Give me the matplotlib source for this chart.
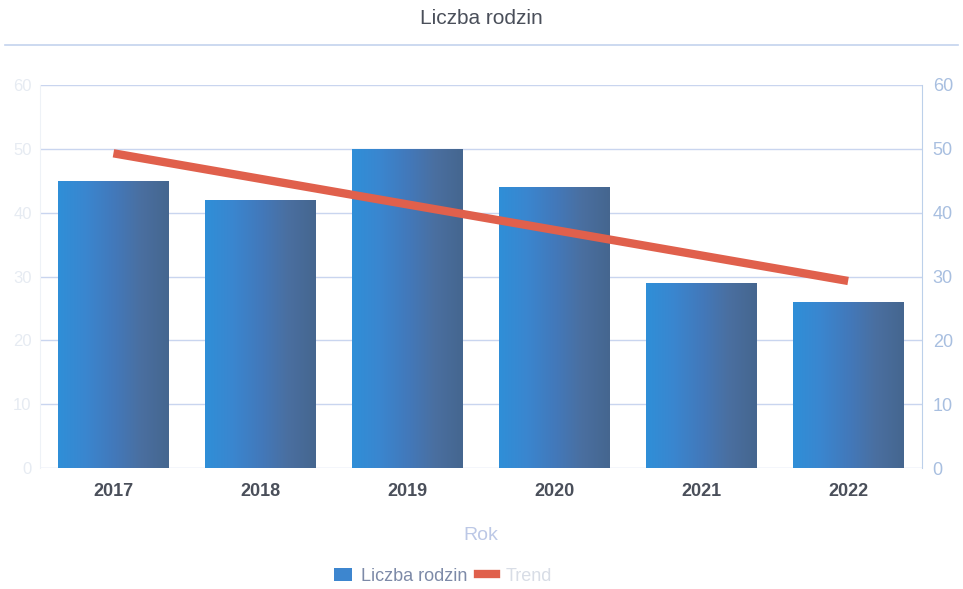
import matplotlib
matplotlib.use("Agg")
import matplotlib.pyplot as plt
import numpy as np
from matplotlib.colors import LinearSegmentedColormap
from matplotlib.lines import Line2D
from matplotlib.patches import Patch

years = ["2017", "2018", "2019", "2020", "2021", "2022"]
families = [45, 42, 50, 44, 29, 26]
trend = [49.3, 45.3, 41.3, 37.3, 33.3, 29.3]
y_ticks = [0, 10, 20, 30, 40, 50, 60]

plt.rcParams['font.family'] = ['Liberation Sans', 'DejaVu Sans']

fig = plt.figure(figsize=(9.63, 5.89), dpi=100)
ax = fig.add_axes([0.0415, 0.2054, 0.9155, 0.6503])
ax2 = ax.twinx()

x = np.arange(len(years))
bars = ax.bar(x, families, width=0.75, color='#3f80c4', zorder=2, edgecolor='none')

cmap = LinearSegmentedColormap.from_list('bar', ['#2f8fd8', '#3a86cf', '#4279bb', '#4a6fa0', '#45668f'])
grad = np.linspace(0, 1, 256).reshape(1, -1)
for b in bars:
    bx, by = b.get_x(), b.get_y()
    w, h = b.get_width(), b.get_height()
    im = ax.imshow(grad, cmap=cmap, aspect='auto', extent=[bx, bx + w, by, by + h],
                   zorder=2.1, interpolation='bilinear')
    im.set_clip_path(b)
    b.set_alpha(0)

ax.plot(x, trend, color='#e0604c', linewidth=6, solid_capstyle='butt', zorder=3)

ax.set_xlim(-0.5, 5.5)
ax.set_ylim(0, 60)
ax2.set_ylim(0, 60)
ax.set_yticks(y_ticks)
ax2.set_yticks(y_ticks)
ax.set_yticklabels([str(v) for v in y_ticks], color='#e6ebf2', fontsize=12)
ax2.set_yticklabels([str(v) for v in y_ticks], color='#a8bfe0', fontsize=13)
ax.set_xticks(x)
ax.set_xticklabels(years, fontsize=13, color='#4a4f5a', fontweight='bold')
ax.tick_params(axis='x', length=0, pad=11)
ax.tick_params(axis='y', length=0, pad=6)
ax2.tick_params(axis='y', length=0, pad=8)

ax.grid(axis='y', color='#c9d5ef', linewidth=1, zorder=0)
ax.set_axisbelow(True)
for a in (ax, ax2):
    for s in ('top', 'bottom'):
        a.spines[s].set_visible(False)
    a.spines['left'].set_color('#eef2f7')
    a.spines['right'].set_color('#bcd0ea')
ax.spines['right'].set_visible(False)
ax2.spines['left'].set_visible(False)

ax.set_xlabel('Rok', fontsize=14, color='#bcc8e6', labelpad=19)

fig.text(0.5, 0.968, 'Liczba rodzin', ha='center', va='center', fontsize=15, color='#4a4f5a')
fig.add_artist(Line2D([0.005, 0.995], [0.923, 0.923], transform=fig.transFigure,
                      color='#c3d3ee', linewidth=1.2))

handles = [Patch(facecolor='#3d86cf', edgecolor='none'),
           Line2D([0], [0], color='#e0604c', linewidth=6)]
leg = fig.legend(handles, ['Liczba rodzin', 'Trend'], loc='center', bbox_to_anchor=(0.46, 0.022),
                 ncol=2, frameon=False, fontsize=13, handlelength=1.0, handletextpad=0.5,
                 columnspacing=0.6)
txts = leg.get_texts()
txts[0].set_color('#7d8aa8')
txts[1].set_color('#d8dde6')

fig.savefig('out.png', dpi=100)
